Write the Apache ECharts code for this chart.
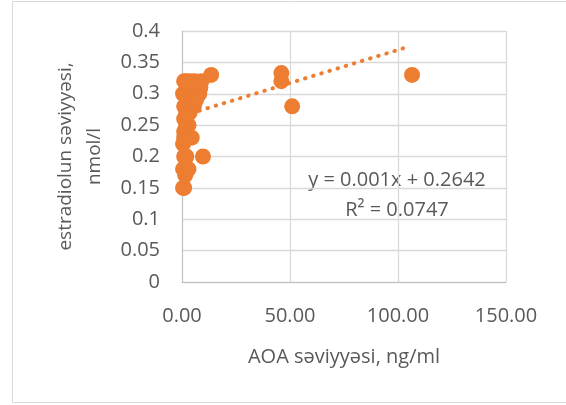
<!DOCTYPE html>
<html>
<head>
<meta charset="utf-8">
<script src="https://cdn.jsdelivr.net/npm/echarts@6/dist/echarts.min.js"></script>
<style>
html,body{margin:0;padding:0;background:#fff;}
#c{width:566px;height:405px;}
</style>
</head>
<body>
<div id="c"></div>
<script>
// AOA level (ng/ml) and estradiol level (nmol/l)
var aoaValues = [0.5, 1, 1.5, 2, 0.5, 3, 2, 1, 9.7, 0.5, 2, 1, 4.5, 1, 2, 3, 1, 2, 3, 1, 4, 5, 0.5, 2, 6, 7, 8, 3, 1, 2, 4, 6, 9, 13.5, 46, 46, 51, 106.5, 8, 8.5, 6.5, 5.5, 3.5];
var estradiolValues = [0.15, 0.15, 0.17, 0.18, 0.18, 0.18, 0.2, 0.2, 0.2, 0.22, 0.23, 0.23, 0.23, 0.24, 0.25, 0.25, 0.26, 0.27, 0.28, 0.28, 0.29, 0.3, 0.3, 0.3, 0.3, 0.31, 0.31, 0.31, 0.32, 0.32, 0.32, 0.32, 0.32, 0.33, 0.333, 0.32, 0.28, 0.33, 0.3, 0.31, 0.29, 0.28, 0.27];
// linear trendline endpoints
var trendX = [0.5, 104];
var trendY = [0.265, 0.374];
var xTicks = [0, 50, 100, 150];
var yTicks = [0, 0.05, 0.1, 0.15, 0.2, 0.25, 0.3, 0.35, 0.4];
var equationText = 'y = 0.001x + 0.2642';
var r2Text = 'R² = 0.0747';

var FONT = '"Open Sans"';
var TXT = '#595959';
var ORANGE = '#ED7D31';

var points = aoaValues.map(function (x, i) { return [x, estradiolValues[i]]; });
var trend = trendX.map(function (x, i) { return [x, trendY[i]]; });

var chart = echarts.init(document.getElementById('c'), null, {renderer: 'canvas'});
chart.setOption({
  animation: false,
  backgroundColor: '#fff',
  textStyle: {fontFamily: FONT},
  grid: {left: 182, right: 60, top: 31, bottom: 123},
  xAxis: {
    type: 'value',
    min: xTicks[0], max: xTicks[xTicks.length - 1], interval: xTicks[1] - xTicks[0],
    name: 'AOA səviyyəsi, ng/ml',
    nameLocation: 'middle', nameGap: 65,
    nameTextStyle: {fontFamily: FONT, fontSize: 20, color: TXT},
    axisLine: {show: true, lineStyle: {color: '#bfbfbf', width: 1}},
    axisTick: {show: false},
    axisLabel: {margin: 24, fontFamily: FONT, fontSize: 20, color: TXT,
      formatter: function (v) { return v.toFixed(2); }},
    splitLine: {show: true, lineStyle: {color: '#d9d9d9', width: 1.3}}
  },
  yAxis: {
    type: 'value',
    min: yTicks[0], max: yTicks[yTicks.length - 1], interval: yTicks[1] - yTicks[0],
    name: 'estradiolun səviyyəsi,\nnmol/l',
    nameLocation: 'middle', nameGap: 53, nameRotate: 90,
    nameTextStyle: {fontFamily: FONT, fontSize: 19, color: TXT, lineHeight: 29},
    axisLine: {show: true, lineStyle: {color: '#bfbfbf', width: 1}},
    axisTick: {show: false},
    axisLabel: {margin: 22, fontFamily: FONT, fontSize: 20, color: TXT,
      formatter: function (v) { return String(+v.toFixed(2)); }},
    splitLine: {show: true, lineStyle: {color: '#d9d9d9', width: 1.3}}
  },
  graphic: [
    {type: 'rect', shape: {x: 12.5, y: 1.5, width: 560, height: 401},
     style: {fill: 'none', stroke: '#d9d9d9', lineWidth: 1}, z: -1},
    {type: 'text', x: 397, y: 180,
     style: {text: equationText, textAlign: 'center', textVerticalAlign: 'middle',
       font: '20px ' + FONT, fill: TXT}},
    {type: 'text', x: 397, y: 210,
     style: {text: r2Text, textAlign: 'center', textVerticalAlign: 'middle',
       font: '20px ' + FONT, fill: TXT}}
  ],
  series: [
    {type: 'line', data: trend, symbol: 'none', z: 3,
     lineStyle: {color: ORANGE, width: 4, type: [0.5, 8], cap: 'round'}},
    {type: 'scatter', data: points, symbol: 'circle', symbolSize: 16, z: 2,
     itemStyle: {color: ORANGE, opacity: 1}}
  ]
});
</script>
</body>
</html>
